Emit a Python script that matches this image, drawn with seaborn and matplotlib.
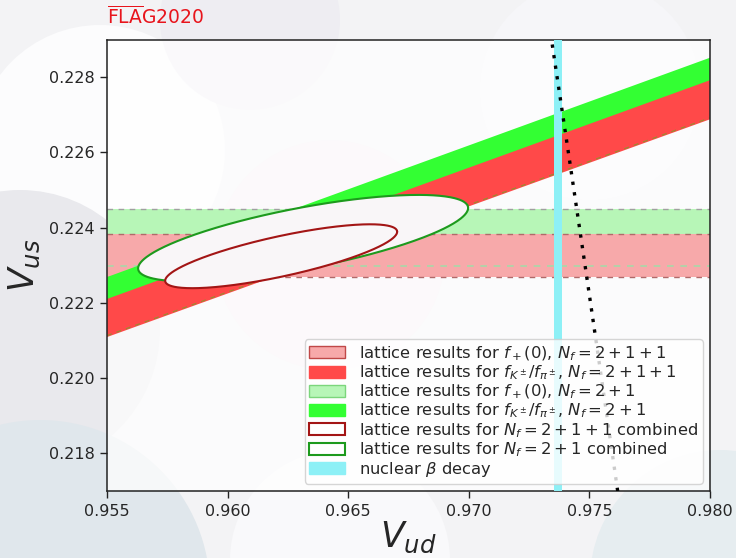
import numpy as np
import pandas as pd
import matplotlib
matplotlib.use("Agg")
import matplotlib.pyplot as plt
import seaborn as sns
from matplotlib.patches import Patch, Circle

sns.set_theme(style="ticks")
plt.rcParams["font.family"] = ["DejaVu Sans"]
plt.rcParams["mathtext.fontset"] = "dejavusans"

# ---------------- data ----------------
vud_lim = [0.955, 0.980]
vus_lim = [0.217, 0.229]
xticks = [0.955, 0.960, 0.965, 0.970, 0.975, 0.980]
yticks = [0.218, 0.220, 0.222, 0.224, 0.226, 0.228]

# |Vus| from f+(0)  (lower, upper)
fplus_2p1p1 = [0.22268, 0.22383]
fplus_2p1 = [0.22298, 0.22450]
# |Vus/Vud| from fK/fpi (lower, upper)
ratio_2p1p1 = [0.23151, 0.23257]
ratio_2p1 = [0.23155, 0.23318]
# |Vud| from nuclear beta decay (lower, upper)
beta_vud = [0.97353, 0.97388]
# combined ellipses: centre (Vud, Vus), half-widths (Vud, Vus), correlation
ell_center_2p1p1 = [0.96222, 0.22324]
ell_width_2p1p1 = [0.004809, 0.000849]
ell_rho_2p1p1 = 0.766
ell_center_2p1 = [0.96313, 0.22372]
ell_width_2p1 = [0.006841, 0.001150]
ell_rho_2p1 = 0.6975

labels = [
    r"lattice results for $f_+(0)$, $N_f=2+1+1$",
    r"lattice results for $f_{K^\pm}/f_{\pi^\pm}$, $N_f=2+1+1$",
    r"lattice results for $f_+(0)$, $N_f=2+1$",
    r"lattice results for $f_{K^\pm}/f_{\pi^\pm}$, $N_f=2+1$",
    r"lattice results for $N_f=2+1+1$ combined",
    r"lattice results for $N_f=2+1$ combined",
    r"nuclear $\beta$ decay",
]

# ---------------- colours ----------------
c_red_light = "#f7a9aa"
c_red = "#ff4949"
c_green_light = "#b7f6b7"
c_green = "#33ff33"
c_ell_red = "#a31515"
c_ell_green = "#1d9a1d"
c_cyan = "#8df0f6"

fig = plt.figure(figsize=(7.36, 5.58), dpi=100)
fig.patch.set_facecolor("#f3f3f5")

# faint background discs
bg = [((100, 150), 125, "#fcfcfd"), ((20, 330), 140, "#e9e9ed"),
      ((40, 590), 170, "#e0e7ec"), ((330, 255), 115, "#f5ebf1"),
      ((340, 560), 110, "#f9f9fb"), ((720, 580), 130, "#e6edf0"),
      ((590, 90), 110, "#f6f6f9"), ((250, 20), 90, "#eeedf2")]
for (px, py), r, col in bg:
    fig.add_artist(Circle((px / 100, (558 - py) / 100), r / 100,
                          transform=fig.dpi_scale_trans, facecolor=col,
                          edgecolor="none", zorder=-5))

ax = fig.add_axes([0.1454, 0.120, 0.8193, 0.8092])
ax.set_facecolor((1, 1, 1, 0.72))

xg = np.linspace(vud_lim[0], vud_lim[1], 200)

# horizontal f+(0) bands
ax.axhspan(*fplus_2p1, facecolor=c_green_light, edgecolor="none", zorder=1)
ax.axhspan(*fplus_2p1p1, facecolor=c_red_light, edgecolor="none", zorder=1.1)
ax.axhline(fplus_2p1[0], color="#a8d8a8", ls=(0, (4, 4)), lw=1.2, zorder=1.2)
ax.axhline(fplus_2p1[1], color="#a0a0a0", ls=(0, (4, 4)), lw=1.0, zorder=1.2)
for y in fplus_2p1p1:
    ax.axhline(y, color="#b06a6a", ls=(0, (4, 4)), lw=1.0, zorder=1.2)

# diagonal fK/fpi bands
ax.fill_between(xg, ratio_2p1[0] * xg, ratio_2p1[1] * xg,
                facecolor=c_green, edgecolor="none", zorder=2)
ax.fill_between(xg, ratio_2p1p1[0] * xg, ratio_2p1p1[1] * xg,
                facecolor=c_red, edgecolor="none", zorder=2.1)
ax.plot(xg, ratio_2p1[0] * xg, color="#9a8a30", ls=(0, (4, 4)), lw=0.9, zorder=2.2)

# combined ellipses
t = np.linspace(0, 2 * np.pi, 400)
def ellipse(center, width, rho):
    x = center[0] + width[0] * np.cos(t)
    y = center[1] + width[1] * (rho * np.cos(t) + np.sqrt(1 - rho ** 2) * np.sin(t))
    return pd.DataFrame({"Vud": x, "Vus": y})

for center, width, rho, col, z in [
        (ell_center_2p1, ell_width_2p1, ell_rho_2p1, c_ell_green, 3),
        (ell_center_2p1p1, ell_width_2p1p1, ell_rho_2p1p1, c_ell_red, 3.5)]:
    df = ellipse(center, width, rho)
    ax.fill(df["Vud"], df["Vus"], facecolor=(0.975, 0.965, 0.972, 1.0),
            edgecolor="none", zorder=z)
    sns.lineplot(data=df, x="Vud", y="Vus", sort=False, estimator=None,
                 color=col, lw=1.5, ax=ax, zorder=z + 0.1)

# nuclear beta decay
ax.axvspan(*beta_vud, facecolor=c_cyan, edgecolor="none", zorder=4)

# unitarity
vus_g = np.linspace(vus_lim[0], vus_lim[1], 300)
uni = pd.DataFrame({"Vud": np.sqrt(1 - vus_g ** 2), "Vus": vus_g})
sns.lineplot(data=uni, x="Vud", y="Vus", sort=False, estimator=None,
             color="black", lw=2.4, ls=(0, (1, 2.2)), ax=ax, zorder=5)

ax.set_xlim(vud_lim)
ax.set_ylim(vus_lim)
ax.set_xticks(xticks)
ax.set_yticks(yticks)
ax.set_xticklabels([f"{v:.3f}" for v in xticks], fontsize=11.5)
ax.set_yticklabels([f"{v:.3f}" for v in yticks], fontsize=11.5)
ax.tick_params(direction="out", length=5, width=1, color="#222222", pad=4)
for s in ax.spines.values():
    s.set_color("#222222")
    s.set_linewidth(1.1)
ax.set_xlabel(r"$V_{ud}$", fontsize=25, labelpad=1)
ax.set_ylabel(r"$V_{us}$", fontsize=25, labelpad=5)

handles = [
    Patch(facecolor=c_red_light, edgecolor="#c04848", lw=1),
    Patch(facecolor=c_red, edgecolor=c_red),
    Patch(facecolor=c_green_light, edgecolor="#7cd67c", lw=1),
    Patch(facecolor=c_green, edgecolor=c_green),
    Patch(facecolor="white", edgecolor=c_ell_red, lw=1.5),
    Patch(facecolor="white", edgecolor=c_ell_green, lw=1.5),
    Patch(facecolor=c_cyan, edgecolor=c_cyan),
]
leg = ax.legend(handles, labels, loc="lower right", fontsize=11.8,
                framealpha=0.8, fancybox=True, labelspacing=0.04,
                handlelength=2.2, handleheight=0.75, handletextpad=0.8,
                borderpad=0.3, borderaxespad=0.45)
leg.get_frame().set_edgecolor("#cccccc")
leg.set_zorder(10)

fig.text(0.1454, 0.95, r"$\overline{\mathrm{FLA}}\mathrm{G}$2020", color="#e8141c",
         fontsize=13.5, ha="left", va="bottom")

fig.savefig("out.png", dpi=100, facecolor=fig.get_facecolor())
